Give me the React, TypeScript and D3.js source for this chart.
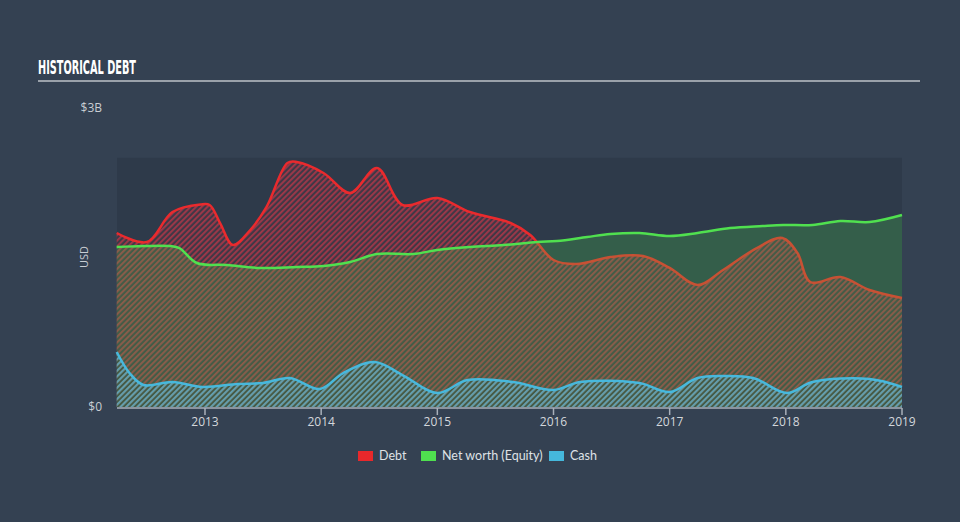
import React from 'react';
import * as d3 from 'd3';

// Decimal-year positions and values (USD billions)
const debtYears = [2012.24, 2012.5, 2012.72, 2012.96, 2013.04, 2013.13, 2013.24, 2013.39, 2013.53, 2013.71, 2013.79, 2014.02, 2014.25, 2014.48, 2014.7, 2015.0, 2015.28, 2015.63, 2015.8, 2016.0, 2016.2, 2016.49, 2016.77, 2017.0, 2017.24, 2017.46, 2017.75, 2017.97, 2018.1, 2018.21, 2018.47, 2018.72, 2019.0];
const debtValues = [1.746, 1.655, 1.956, 2.032, 2.027, 1.846, 1.625, 1.776, 2.007, 2.448, 2.458, 2.348, 2.147, 2.398, 2.027, 2.097, 1.956, 1.846, 1.726, 1.475, 1.435, 1.505, 1.515, 1.395, 1.224, 1.375, 1.595, 1.696, 1.545, 1.254, 1.304, 1.174, 1.094];

const equityYears = [2012.24, 2012.47, 2012.7, 2012.78, 2012.93, 2013.19, 2013.47, 2013.79, 2014.02, 2014.25, 2014.48, 2014.79, 2015.0, 2015.28, 2015.57, 2015.86, 2016.03, 2016.29, 2016.49, 2016.74, 2017.0, 2017.24, 2017.52, 2017.8, 2017.98, 2018.23, 2018.47, 2018.72, 2019.0];
const equityValues = [1.605, 1.615, 1.615, 1.595, 1.445, 1.425, 1.395, 1.405, 1.415, 1.455, 1.535, 1.535, 1.575, 1.605, 1.625, 1.655, 1.666, 1.706, 1.736, 1.746, 1.716, 1.746, 1.796, 1.816, 1.826, 1.826, 1.866, 1.856, 1.926];

const cashYears = [2012.24, 2012.35, 2012.47, 2012.72, 2012.98, 2013.28, 2013.5, 2013.73, 2013.99, 2014.19, 2014.46, 2014.7, 2015.0, 2015.26, 2015.65, 2016.0, 2016.23, 2016.74, 2017.0, 2017.24, 2017.46, 2017.72, 2018.01, 2018.23, 2018.72, 2019.0];
const cashValues = [0.552, 0.341, 0.221, 0.251, 0.201, 0.231, 0.241, 0.291, 0.181, 0.341, 0.451, 0.321, 0.14, 0.271, 0.251, 0.171, 0.251, 0.241, 0.15, 0.291, 0.311, 0.291, 0.14, 0.251, 0.281, 0.201];

const xTickYears = [2013, 2014, 2015, 2016, 2017, 2018, 2019];
const yTickValues = [0, 3];
const yTickLabels = ['$0', '$3B'];
const legendLabels = ['Debt', 'Net worth (Equity)', 'Cash'];

const W = 960;
const H = 522;
const left = 117;
const right = 902;
const top = 108;
const bottom = 407;

export default function App() {
  const x = d3.scaleLinear().domain([2012.2425, 2019.0]).range([left, right]);
  const y = d3.scaleLinear().domain([0, 3]).range([bottom, top]);

  const debt = debtYears.map((t, i) => [t, debtValues[i]] as [number, number]);
  const equity = equityYears.map((t, i) => [t, equityValues[i]] as [number, number]);
  const cash = cashYears.map((t, i) => [t, cashValues[i]] as [number, number]);

  const curve = d3.curveCatmullRom.alpha(0.5);
  const area = d3.area<[number, number]>().x(d => x(d[0])).y0(y(0)).y1(d => y(d[1])).curve(curve);
  const line = d3.line<[number, number]>().x(d => x(d[0])).y(d => y(d[1])).curve(curve);

  const bandTop = y(2.5);

  const legendColors = ['#e8282b', '#4fe04f', '#45b8dc'];
  const legendX = [358, 421, 549];

  return (
    <svg width={W} height={H} style={{ position: 'absolute', left: 0, top: 0 }} xmlns="http://www.w3.org/2000/svg">
      <defs>
        <pattern id="hatchRed" patternUnits="userSpaceOnUse" width="4" height="4" patternTransform="rotate(45)">
          <rect width="4" height="4" fill="#e8282b" opacity="0.1" />
          <rect x="0" y="0" width="1.8" height="4" fill="#d8384a" opacity="0.65" />
        </pattern>
        <pattern id="hatchBlue" patternUnits="userSpaceOnUse" width="4" height="4" patternTransform="rotate(45)">
          <rect x="0" y="0" width="1.8" height="4" fill="#5aa8bc" opacity="0.95" />
        </pattern>
      </defs>
      <rect width={W} height={H} fill="#344152" />
      <rect x={left} y={bandTop} width={right - left} height={bottom - bandTop} fill="#2e3a4a" />

      {/* Title */}
      <text x={38} y={74} fill="#ffffff" fontFamily="'Liberation Sans Narrow', 'DejaVu Sans Condensed', sans-serif" fontWeight="bold" fontSize={19} textLength={98} lengthAdjust="spacingAndGlyphs">HISTORICAL DEBT</text>
      <line x1={38} x2={920} y1={81} y2={81} stroke="#9aa1aa" strokeWidth={2} />

      {/* Debt */}
      <path d={area(debt) || ''} fill="url(#hatchRed)" />
      <path d={line(debt) || ''} fill="none" stroke="#ea2a2d" strokeWidth={2.5} />

      {/* Equity */}
      <path d={area(equity) || ''} fill="#4fe04f" fillOpacity={0.22} />
      <path d={line(equity) || ''} fill="none" stroke="#50e04f" strokeWidth={2.5} />

      {/* Cash */}
      <path d={area(cash) || ''} fill="url(#hatchBlue)" />
      <path d={line(cash) || ''} fill="none" stroke="#47b8dc" strokeWidth={2.5} />

      {/* Axes */}
      <line x1={left} x2={right} y1={bottom + 1} y2={bottom + 1} stroke="#a9b0ba" strokeWidth={1.5} />
      {xTickYears.map(t => (
        <g key={t}>
          <line x1={x(t)} x2={x(t)} y1={bottom + 1} y2={bottom + 8} stroke="#a9b0ba" strokeWidth={1.5} />
          <text x={x(t)} y={426} textAnchor="middle" fill="#d3d7dc" fontFamily="'Open Sans', sans-serif" fontSize={12}>{t}</text>
        </g>
      ))}
      {yTickValues.map((v, i) => (
        <text key={v} x={102} y={y(v) + 4} textAnchor="end" fill="#c9ced4" fontFamily="'Open Sans', sans-serif" fontSize={12}>{yTickLabels[i]}</text>
      ))}
      <text transform="translate(88,257) rotate(-90)" textAnchor="middle" fill="#c9ced4" fontFamily="'Open Sans', sans-serif" fontSize={11}>USD</text>

      {/* Legend */}
      {legendLabels.map((lab, i) => (
        <g key={lab}>
          <rect x={legendX[i]} y={451} width={15} height={10} fill={legendColors[i]} />
          <text x={legendX[i] + 21} y={460} fill="#dfe2e6" fontFamily="Lato, sans-serif" fontSize={12.5}>{lab}</text>
        </g>
      ))}
    </svg>
  );
}
